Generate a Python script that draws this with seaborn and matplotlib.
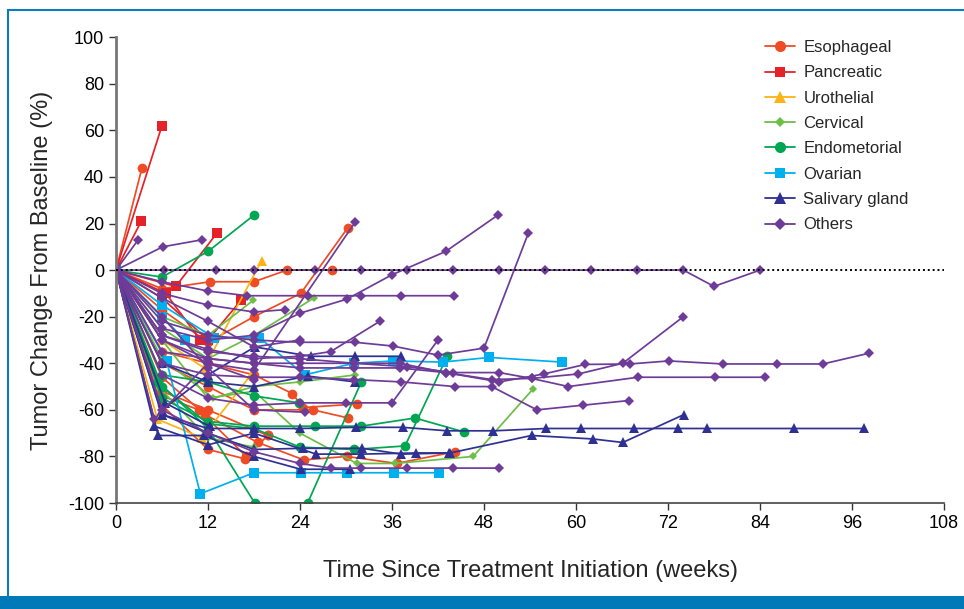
import numpy as np
import pandas as pd
import matplotlib
matplotlib.use("Agg")
import matplotlib.pyplot as plt
from matplotlib.lines import Line2D
from matplotlib.patches import Rectangle
import seaborn as sns

sns.set_style("ticks")
plt.rcParams['font.family'] = ['Liberation Sans', 'DejaVu Sans']
plt.rcParams['axes.unicode_minus'] = False

# each trace: (weeks, tumor change %)
esophageal = [
    ([0, 3.4], [0, 44]),
    ([0, 6, 12, 18, 24.1, 30.2], [0, -17, -31, -20, -10, 18]),
    ([0, 6, 12.3, 18, 22.3, 28.2], [0, -8, -5, -5, 0, 0]),
    ([0, 6, 10.8, 17, 19.8], [0, -54, -60, -80, -71]),
    ([0, 6, 11.6, 18.5, 24.5, 30.1, 36.6, 44.2], [0, -46, -62, -74, -81.5, -80, -83, -78]),
    ([0, 6, 12, 16.8], [0, -58, -77, -81]),
    ([0, 6, 12, 18, 23, 24.4, 31.4], [0, -35, -40, -45, -53, -59, -57.5]),
    ([0, 6, 12, 18, 25.7, 30.3], [0, -40, -50, -60, -60, -63.5]),
    ([0, 6, 12, 19.8], [0, -52, -60, -71]),
]
pancreatic = [
    ([0, 3.3], [0, 21]),
    ([0, 6], [0, 62]),
    ([0, 7.8, 13.2], [0, -7, 16]),
    ([0, 6, 12, 16.3], [0, -12, -30, -13]),
    ([0, 6.5, 11], [0, -10, -30]),
]
urothelial = [
    ([0, 6, 11.5, 19], [0, -30, -42, 4]),
    ([0, 5.4, 11.2, 17.6], [0, -64, -72, -45]),
]
cervical = [
    ([0, 6, 12, 18, 24, 31.4, 36.4, 46.6, 54.4], [0, -30, -55, -52, -70, -83, -83, -80, -51]),
    ([0, 6, 12, 17.9], [0, -20, -28, -13]),
    ([0, 6, 12, 18, 25.8], [0, -25, -38, -28, -12]),
    ([0, 6, 12.7, 18, 24, 31.2], [0, -38, -55, -50, -48, -45]),
    ([0, 5.5, 12, 18], [0, -50, -72, -76]),
]
endometrial = [
    ([0, 6, 12, 18], [0, -3, 8, 23.6]),
    ([0, 5.5, 12, 18.1, 25, 32], [0, -48, -68, -100, -100, -48]),
    ([0, 6, 12, 18, 24, 31, 37.7, 43.2], [0, -50, -66, -68, -76, -77, -75.5, -37]),
    ([0, 6, 12, 18, 26, 32, 39, 45.4], [0, -55, -65, -67, -67, -67, -63.5, -69.5]),
    ([0, 6, 12, 18, 23.9], [0, -45, -48, -54, -57]),
]
ovarian = [
    ([0, 6.6, 11, 18, 24.1, 30.1, 36.3, 42.1], [0, -39, -96, -87, -87, -87, -87, -87]),
    ([0, 6, 12.8, 18.7, 24.6, 31, 36.1, 42.6, 48.7, 58.2],
     [0, -15, -29, -29, -45, -40, -39, -39.5, -37.5, -39.5]),
    ([0, 6, 9], [0, -20, -30]),
]
salivary = [
    ([0, 6, 12, 18, 24, 31.3, 37.4, 43.2, 49.2, 56.1, 60.6, 67.5, 73.3, 77.1, 88.4, 97.6],
     [0, -62, -68, -68, -68, -67.5, -67.5, -69, -69, -68, -68, -68, -68, -68, -68, -68]),
    ([0, 6, 12, 18, 24.4, 32.1, 37.2, 43.6, 54.2, 62.2, 66.1, 74.1],
     [0, -62, -70, -77, -76.5, -76.5, -79, -78.5, -71, -72.5, -74, -62]),
    ([0, 5.5, 11.5, 18, 24.1, 30.5], [0, -71, -71, -80, -85.5, -85.5]),
    ([0, 6, 12, 18.1, 25.4, 31.2, 37.2], [0, -60, -45, -33, -37, -37, -37]),
    ([0, 6, 12, 18, 25, 31.2], [0, -40, -48, -50, -45.5, -48]),
    ([0, 5, 12, 18, 26.1, 32, 39.1, 43.4], [0, -67, -75, -70, -79, -79, -78.5, -78.5]),
    ([0, 6.4, 12.2], [0, -57, -67]),
]
others = [
    ([0, 6.2, 13, 18, 26, 32, 38, 44, 50, 56, 62, 68, 74, 78, 84],
     [0, 0, 0, 0, 0, 0, 0, 0, 0, 0, 0, 0, 0, -7, 0]),
    ([0, 2.9], [0, 13]),
    ([0, 6.1, 11.2], [0, 10, 13]),
    ([0, 6, 12, 18, 31.2], [0, -30, -40, -43, 20.6]),
    ([0, 6, 12, 18, 24, 30.1, 36, 43, 49.8], [0, -25, -30, -28, -18.5, -12.5, -2, 8, 23.6]),
    ([0, 6, 12, 18, 24, 31.2, 36.1, 42, 48, 53.8],
     [0, -22, -28, -30, -31, -31, -32.6, -36.5, -33.5, 16]),
    ([0, 6, 12, 18, 24, 31, 37, 43, 49, 54.2, 60.3, 66.1, 74],
     [0, -30, -38, -40, -42, -42, -42, -44, -47, -46.5, -44.6, -40, -20]),
    ([0, 6, 12, 18, 24, 31, 37, 43, 50, 55.8, 61.2, 67, 72.1, 79.2, 86.2, 92.2, 98.2],
     [0, -28, -35, -37, -38, -40, -40, -44, -48, -44.6, -40.5, -40.3, -39, -40.3, -40.3, -40.3, -35.7]),
    ([0, 6, 12, 18, 24, 31, 38, 44, 50, 54.2, 59, 68.1, 78.1, 84.6],
     [0, -35, -38, -40, -40, -40, -41.5, -44, -44, -46.5, -50, -46, -46, -46]),
    ([0, 6, 12, 18, 24, 31, 37.2, 44.2, 49, 54.9, 60.9, 66.9],
     [0, -40, -45, -46, -46, -47, -48, -50, -50, -60, -58, -56]),
    ([0, 6, 12, 17.1, 25, 32, 37.2, 44.1], [0, -5, -9, -11, -11, -11, -11, -11]),
    ([0, 6, 12, 18, 24, 30, 36, 42], [0, -45, -55, -58, -57, -57, -57, -30]),
    ([0, 6, 12, 18, 24, 28, 34.4], [0, -28, -34, -38, -37, -35, -22]),
    ([0, 6, 12, 18, 24, 28, 32, 38, 44, 50], [0, -60, -70, -78, -83, -85, -85, -85, -85, -85]),
    ([0, 6, 12, 18, 22], [0, -10, -15, -18, -17]),
    ([0, 6, 12, 18, 24], [0, -12, -22, -33, -30]),
    ([0, 6, 12, 18, 24.6], [0, -20, -42, -60, -61]),
    ([0, 5, 12, 18], [0, -64, -40, -47]),
]

categories = ["Esophageal", "Pancreatic", "Urothelial", "Cervical",
              "Endometorial", "Ovarian", "Salivary gland", "Others"]
traces = [esophageal, pancreatic, urothelial, cervical,
          endometrial, ovarian, salivary, others]
colors = ["#EF4B24", "#E42228", "#FBB316", "#6DBE45",
          "#00A651", "#00B0EE", "#2E3192", "#6E3C98"]
markers = ["o", "s", "^", "D", "o", "s", "^", "D"]
msizes = [7, 6.5, 7, 4.5, 7, 6.5, 7, 5]

rows = []
pid = 0
for cat, group in zip(categories, traces):
    for weeks, vals in group:
        for w, v in zip(weeks, vals):
            rows.append((cat, pid, w, v))
        pid += 1
df = pd.DataFrame(rows, columns=["type", "pid", "week", "change"])

fig = plt.figure(figsize=(9.64, 6.09), dpi=100)
ax = fig.add_axes([0.1203, 0.174, 0.859, 0.765])

for cat, c, m, ms in zip(categories, colors, markers, msizes):
    sub = df[df["type"] == cat]
    sns.lineplot(data=sub, x="week", y="change", units="pid", estimator=None,
                 sort=False, color=c, marker=m, markersize=ms, markeredgewidth=0,
                 linewidth=1.25, ax=ax, legend=False)

ax.axhline(0, color="black", linestyle=(0, (1, 1.5)), linewidth=1.4, zorder=5)

ax.set_xlim(0, 108)
ax.set_ylim(-100, 100)
ax.set_xticks(np.arange(0, 109, 12))
ax.set_yticks(np.arange(-100, 101, 20))
ax.tick_params(labelsize=13, length=5, width=1, colors="#333333", labelcolor="black")
ax.set_xlabel("Time Since Treatment Initiation (weeks)", fontsize=17, labelpad=20)
ax.set_ylabel("Tumor Change From Baseline (%)", fontsize=17, labelpad=11)
sns.despine(ax=ax)
ax.spines["left"].set_linewidth(2)
ax.spines["left"].set_color("#777777")
ax.spines["bottom"].set_linewidth(1.2)
ax.spines["bottom"].set_color("#444444")

handles = [Line2D([0], [0], color=c, marker=m, markersize=ms + 1, markeredgewidth=0,
                  linewidth=1.3) for c, m, ms in zip(colors, markers, msizes)]
ax.legend(handles, categories, loc="upper left", frameon=False,
          bbox_to_anchor=(765 / 964, 1 - 40 / 609), bbox_transform=fig.transFigure,
          borderaxespad=0, borderpad=0, handlelength=1.8, handletextpad=0.5,
          labelspacing=0.62, prop={"family": "Liberation Sans", "size": 12})

# journal frame
fig.patches.append(Rectangle((8 / 964, 0), 1, 1 - 10 / 609, transform=fig.transFigure,
                             fill=False, edgecolor="#0A7CC1", linewidth=1.5))
fig.patches.append(Rectangle((0, 0), 1, 13 / 609, transform=fig.transFigure,
                             facecolor="#0079B8", edgecolor="none"))

fig.savefig("out.png", dpi=100)
